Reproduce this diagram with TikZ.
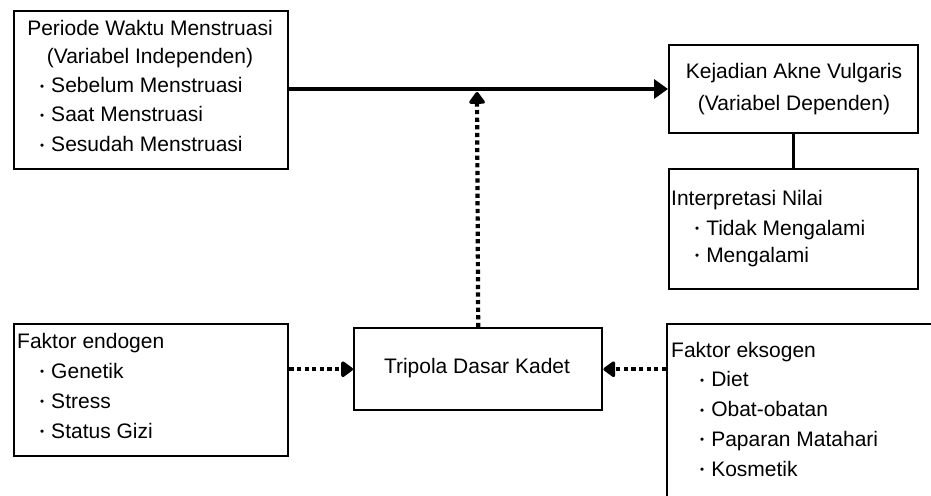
\documentclass[tikz,border=0pt]{standalone}
\usepackage{fontspec}
\setmainfont{Liberation Sans}
\usetikzlibrary{arrows.meta}
\newcommand{\bul}{\raisebox{0.1em}{\scalebox{0.55}{\textbullet}}\hspace{7pt}}
\begin{document}
\begin{tikzpicture}[x=1pt,y=-1pt,
  box/.style={draw=black,line width=2.4pt,rectangle,inner sep=0pt,anchor=north west},
  txt/.style={inner sep=0pt,font=\fontsize{21}{21}\selectfont,anchor=base west},
  ctxt/.style={inner sep=0pt,font=\fontsize{21}{21}\selectfont,anchor=base},
  solidarrow/.style={line width=4pt,-{Triangle[length=14pt,width=19pt]}},
  dotarrow/.style={line width=4.2pt,dash pattern=on 4.2pt off 3.4pt,-{Triangle[length=13pt,width=18pt,round]}},
  plainline/.style={line width=3pt}]
\clip (0,0) rectangle (931,495);
% boxes
\node[box,minimum width=274pt,minimum height=158pt] (b1) at (13,10) {};
\node[box,minimum width=249pt,minimum height=88pt] (b2) at (668,44) {};
\node[box,minimum width=249pt,minimum height=120pt] (b3) at (668,168) {};
\node[box,minimum width=274pt,minimum height=132pt] (b4) at (13,323) {};
\node[box,minimum width=248pt,minimum height=82pt] (b5) at (353,327) {};
\node[box,minimum width=280pt,minimum height=190pt] (b6) at (666,323) {};
% box 1 text
\node[ctxt] (t1a) at (150,35.5) {Periode Waktu Menstruasi};
\node[ctxt] (t1b) at (150,63.5) {(Variabel Independen)};
\node[txt] (t1c) at (40,92.5) {\bul Sebelum Menstruasi};
\node[txt] (t1d) at (40,121.5) {\bul Saat Menstruasi};
\node[txt] (t1e) at (40,151.5) {\bul Sesudah Menstruasi};
% box 2 text
\node[ctxt] (t2a) at (794,78) {Kejadian Akne Vulgaris};
\node[ctxt] (t2b) at (794,110) {(Variabel Dependen)};
% box 3 text
\node[txt] (t3a) at (671,205) {Interpretasi Nilai};
\node[txt] (t3b) at (695,235) {\bul Tidak Mengalami};
\node[txt] (t3c) at (695,262) {\bul Mengalami};
% box 4 text
\node[txt] (t4a) at (17,348.5) {Faktor endogen};
\node[txt] (t4b) at (40,378) {\bul Genetik};
\node[txt] (t4c) at (40,408) {\bul Stress};
\node[txt] (t4d) at (40,438) {\bul Status Gizi};
% box 5 text
\node[ctxt] (t5) at (477,373) {Tripola Dasar Kadet};
% box 6 text
\node[txt] (t6a) at (671,357) {Faktor eksogen};
\node[txt] (t6b) at (700,386.5) {\bul Diet};
\node[txt] (t6c) at (700,416.5) {\bul Obat-obatan};
\node[txt] (t6d) at (700,446) {\bul Paparan Matahari};
\node[txt] (t6e) at (700,476) {\bul Kosmetik};
% connectors
\coordinate (m1) at (287,89);
\coordinate (m2) at (668,89);
\coordinate (j) at (477,92);
\draw[solidarrow] (m1) -- (m2);
\draw[plainline] (b2.south) -- (b3.north);
\draw[dotarrow] (b5.north) -- (j);
\draw[dotarrow] (b4.east |- b5.west) -- (b5.west);
\draw[dotarrow] (b6.west |- b5.east) -- (b5.east);
\end{tikzpicture}
\end{document}
